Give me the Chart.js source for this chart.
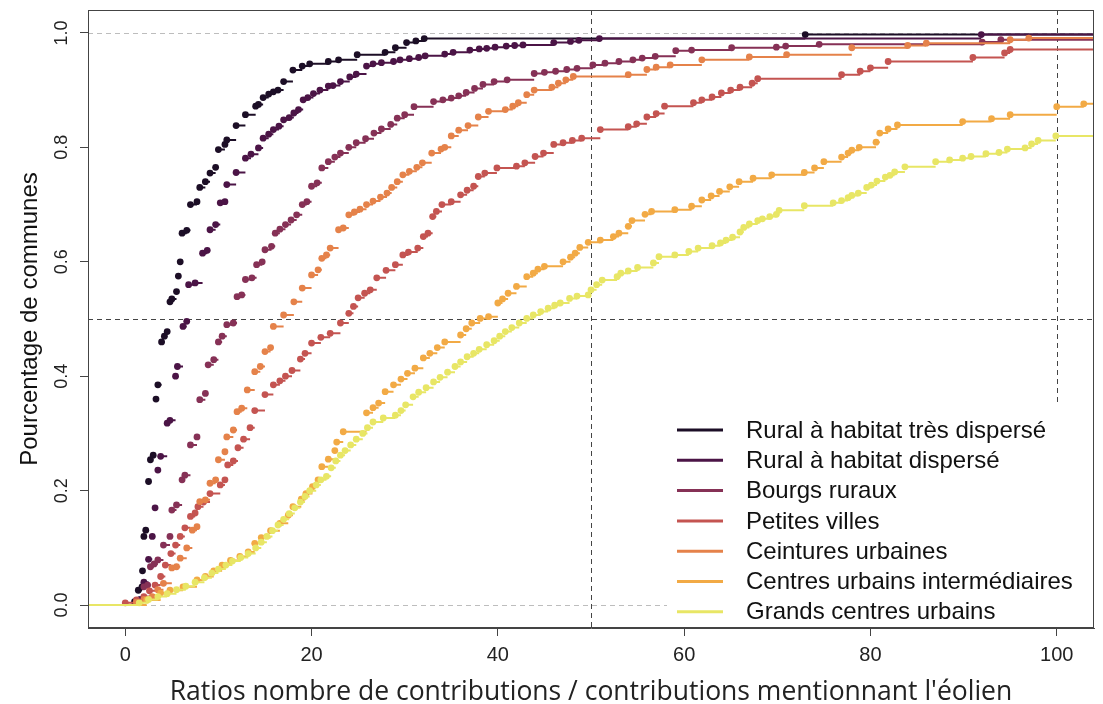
<!DOCTYPE html>
<html>
<head>
<meta charset="utf-8">
<script src="https://cdn.jsdelivr.net/npm/chart.js@4.4.0/dist/chart.umd.min.js"></script>
<style>
    body { margin: 0; background: #fff; }
    #wrap { width: 1103px; height: 704px; }
</style>
</head>
<body>
<div id="wrap"><canvas id="ecdfChart" width="1103" height="704"></canvas></div>
<script>
const seriesNames = [
    'Rural à habitat très dispersé',
    'Rural à habitat dispersé',
    'Bourgs ruraux',
    'Petites villes',
    'Ceintures urbaines',
    'Centres urbains intermédiaires',
    'Grands centres urbains'
];
const seriesColors = ['#1c0e26', '#4b1446', '#863156', '#c45451', '#e5824a', '#f2aa45', '#e8e665'];

const xTicks = [0, 20, 40, 60, 80, 100];
const yTicks = [0, 0.2, 0.4, 0.6, 0.8, 1.0];
const refX = [50, 100];
const refY = [0.5];
const guideY = [0, 1];

// ratio values at each jump of the ecdf, and the cumulative share reached there
const s1x = [1.0, 1.4, 1.8, 1.85, 2.0, 2.2, 2.5, 2.7, 3.0, 3.3, 3.5, 3.9, 4.2, 4.5, 4.8, 5.0, 5.5, 5.7, 5.9, 6.1, 6.6, 7.0, 7.7, 8.0, 8.6, 9.1, 9.7, 10.0, 10.7, 10.9, 11.9, 12.9, 14.0, 14.3, 14.8, 15.4, 15.9, 16.4, 17.0, 18.0, 19.0, 19.8, 21.8, 22.9, 24.9, 27.9, 29.0, 30.2, 31.2, 32.1, 73.0];
const s1y = [0.006, 0.026, 0.032, 0.06, 0.12, 0.131, 0.216, 0.254, 0.262, 0.36, 0.385, 0.46, 0.47, 0.478, 0.53, 0.535, 0.548, 0.575, 0.6, 0.65, 0.655, 0.70, 0.705, 0.73, 0.74, 0.755, 0.765, 0.796, 0.805, 0.813, 0.838, 0.857, 0.872, 0.875, 0.887, 0.893, 0.897, 0.90, 0.915, 0.935, 0.942, 0.946, 0.95, 0.953, 0.962, 0.966, 0.974, 0.983, 0.986, 0.99, 0.997];

const s2x = [1.6, 2.0, 2.5, 2.9, 3.2, 3.5, 3.8, 4.5, 4.8, 5.4, 5.6, 6.2, 6.6, 6.8, 7.5, 8.3, 8.8, 9.1, 9.7, 10.2, 10.7, 10.9, 11.9, 12.9, 13.5, 14.3, 14.8, 15.4, 15.9, 16.5, 17.0, 17.6, 18.1, 18.6, 19.1, 19.6, 20.2, 20.9, 21.8, 22.3, 23.1, 24.1, 24.8, 25.9, 26.6, 27.5, 28.8, 29.5, 30.5, 31.5, 32.2, 34.3, 35.2, 37.0, 38.0, 38.8, 39.7, 40.9, 41.8, 42.7, 46.0, 47.8, 48.7, 50.9, 91.9];
const s2y = [0.01, 0.04, 0.08, 0.12, 0.17, 0.236, 0.26, 0.318, 0.323, 0.40, 0.417, 0.487, 0.496, 0.56, 0.563, 0.615, 0.62, 0.656, 0.665, 0.703, 0.705, 0.735, 0.756, 0.781, 0.788, 0.799, 0.816, 0.823, 0.831, 0.837, 0.848, 0.852, 0.86, 0.866, 0.883, 0.887, 0.894, 0.90, 0.907, 0.908, 0.915, 0.923, 0.928, 0.942, 0.946, 0.948, 0.95, 0.953, 0.955, 0.957, 0.96, 0.963, 0.966, 0.97, 0.972, 0.973, 0.975, 0.977, 0.978, 0.979, 0.983, 0.985, 0.987, 0.99, 0.997];

const s3x = [1.5, 2.0, 2.4, 2.7, 3.1, 3.5, 4.1, 4.8, 5.0, 5.5, 6.1, 6.4, 7.0, 7.7, 8.0, 8.6, 8.9, 9.5, 10.0, 10.4, 10.9, 11.6, 12.0, 12.5, 12.9, 13.6, 14.1, 14.7, 15.0, 15.7, 16.1, 16.6, 17.2, 17.8, 18.4, 19.0, 19.5, 20.0, 20.6, 21.1, 21.8, 22.5, 23.1, 24.0, 24.8, 25.8, 26.7, 27.5, 28.5, 29.2, 30.0, 31.0, 33.1, 34.1, 35.0, 35.8, 36.6, 37.5, 38.4, 39.6, 41.0, 43.9, 45.0, 46.2, 47.4, 48.5, 50.2, 51.5, 53.0, 54.5, 55.5, 56.9, 59.1, 60.8, 65.1, 69.9, 70.9, 74.5, 92.0, 94.0];
const s3y = [0.006, 0.032, 0.035, 0.067, 0.072, 0.079, 0.105, 0.12, 0.166, 0.175, 0.219, 0.227, 0.28, 0.294, 0.359, 0.37, 0.42, 0.429, 0.46, 0.47, 0.49, 0.493, 0.539, 0.542, 0.569, 0.572, 0.595, 0.60, 0.621, 0.627, 0.65, 0.657, 0.665, 0.673, 0.682, 0.70, 0.705, 0.732, 0.738, 0.764, 0.775, 0.783, 0.79, 0.80, 0.808, 0.815, 0.825, 0.832, 0.84, 0.851, 0.857, 0.871, 0.88, 0.883, 0.886, 0.89, 0.896, 0.903, 0.91, 0.915, 0.918, 0.929, 0.931, 0.933, 0.936, 0.938, 0.944, 0.947, 0.95, 0.953, 0.956, 0.959, 0.969, 0.97, 0.974, 0.975, 0.977, 0.98, 0.984, 0.988];

const s4x = [0.0, 1.2, 2.0, 2.6, 3.2, 3.8, 4.3, 4.9, 5.4, 5.9, 6.4, 7.0, 7.5, 7.8, 8.4, 9.1, 10.2, 10.7, 11.0, 11.6, 12.1, 12.7, 13.4, 13.9, 15.0, 15.9, 16.6, 17.2, 17.9, 18.8, 19.3, 20.0, 21.0, 22.0, 23.1, 24.0, 24.5, 25.0, 25.7, 26.3, 27.0, 28.0, 29.0, 29.8, 30.4, 31.4, 32.0, 32.5, 33.0, 33.4, 34.0, 35.0, 36.0, 36.7, 37.4, 37.9, 38.6, 39.9, 42.0, 42.9, 44.0, 44.9, 46.0, 47.0, 48.0, 49.0, 51.0, 54.0, 54.9, 56.0, 57.0, 57.9, 61.0, 61.9, 63.0, 64.0, 65.0, 66.0, 67.3, 67.9, 76.9, 78.9, 80.0, 81.9, 91.0, 94.4, 95.0];
const s4y = [0.004, 0.009, 0.015, 0.025, 0.035, 0.05, 0.07, 0.09, 0.105, 0.12, 0.135, 0.155, 0.161, 0.172, 0.18, 0.195, 0.21, 0.219, 0.245, 0.252, 0.275, 0.29, 0.31, 0.34, 0.368, 0.385, 0.392, 0.40, 0.41, 0.43, 0.44, 0.458, 0.468, 0.475, 0.493, 0.51, 0.522, 0.537, 0.545, 0.551, 0.572, 0.585, 0.595, 0.612, 0.617, 0.624, 0.644, 0.65, 0.679, 0.688, 0.70, 0.705, 0.717, 0.725, 0.732, 0.749, 0.755, 0.764, 0.767, 0.773, 0.784, 0.79, 0.805, 0.808, 0.812, 0.816, 0.831, 0.836, 0.841, 0.853, 0.859, 0.872, 0.878, 0.883, 0.888, 0.895, 0.90, 0.905, 0.912, 0.92, 0.927, 0.933, 0.939, 0.95, 0.957, 0.965, 0.971];

const s5x = [1.2, 2.0, 2.9, 3.5, 4.1, 5.0, 5.5, 5.9, 6.6, 7.2, 7.7, 8.0, 8.6, 9.1, 9.7, 10.0, 10.7, 10.9, 11.6, 12.0, 12.5, 13.1, 13.9, 14.5, 15.0, 15.6, 15.9, 17.0, 18.1, 19.0, 20.0, 20.7, 21.1, 21.6, 22.0, 22.9, 23.4, 24.0, 24.6, 25.2, 25.9, 26.6, 27.4, 28.1, 28.6, 29.2, 29.8, 30.5, 31.3, 31.9, 32.9, 33.9, 34.3, 35.0, 35.8, 36.8, 37.9, 39.0, 40.8, 41.6, 42.2, 43.1, 43.9, 45.8, 46.5, 47.3, 48.1, 54.0, 56.0, 57.0, 58.5, 61.9, 67.0, 71.0, 78.0, 84.0, 86.0, 95.0, 97.0];
const s5y = [0.005, 0.01, 0.015, 0.027, 0.038, 0.065, 0.067, 0.082, 0.10, 0.131, 0.137, 0.181, 0.184, 0.213, 0.219, 0.254, 0.268, 0.294, 0.306, 0.338, 0.344, 0.376, 0.408, 0.417, 0.443, 0.45, 0.487, 0.507, 0.53, 0.554, 0.577, 0.586, 0.606, 0.612, 0.624, 0.656, 0.659, 0.682, 0.687, 0.692, 0.70, 0.706, 0.713, 0.72, 0.73, 0.74, 0.752, 0.758, 0.765, 0.773, 0.79, 0.797, 0.80, 0.82, 0.83, 0.838, 0.853, 0.863, 0.866, 0.872, 0.878, 0.892, 0.90, 0.905, 0.912, 0.918, 0.924, 0.927, 0.936, 0.94, 0.944, 0.953, 0.958, 0.962, 0.974, 0.978, 0.982, 0.988, 0.991];

const s6x = [2.3, 3.8, 4.8, 6.2, 7.7, 8.6, 9.5, 10.4, 11.3, 12.3, 13.2, 13.9, 14.6, 15.6, 16.6, 17.5, 18.0, 18.9, 19.4, 20.1, 20.7, 21.1, 21.8, 22.5, 22.7, 23.4, 25.9, 26.6, 27.2, 27.9, 28.8, 29.6, 30.3, 31.1, 32.0, 32.7, 33.5, 34.3, 36.0, 36.6, 37.2, 38.1, 39.0, 40.0, 40.5, 41.1, 42.0, 43.1, 43.8, 44.3, 45.0, 47.0, 47.8, 48.3, 48.8, 49.7, 51.0, 52.4, 53.0, 54.0, 54.4, 55.8, 56.5, 59.0, 60.8, 61.9, 62.9, 63.8, 64.9, 65.9, 67.4, 69.4, 72.9, 74.0, 75.0, 76.9, 77.6, 78.0, 78.8, 80.6, 81.0, 81.9, 82.9, 89.9, 93.0, 95.0, 100.0, 102.9];
const s6y = [0.009, 0.021, 0.026, 0.032, 0.044, 0.05, 0.06, 0.07, 0.078, 0.085, 0.093, 0.108, 0.118, 0.13, 0.143, 0.157, 0.172, 0.185, 0.195, 0.207, 0.219, 0.242, 0.255, 0.27, 0.285, 0.303, 0.336, 0.345, 0.353, 0.373, 0.385, 0.395, 0.405, 0.414, 0.432, 0.44, 0.45, 0.46, 0.472, 0.483, 0.493, 0.501, 0.504, 0.528, 0.535, 0.545, 0.557, 0.574, 0.58, 0.587, 0.592, 0.60, 0.608, 0.615, 0.625, 0.634, 0.638, 0.644, 0.65, 0.662, 0.672, 0.683, 0.688, 0.691, 0.697, 0.708, 0.715, 0.723, 0.731, 0.74, 0.746, 0.752, 0.756, 0.764, 0.775, 0.783, 0.79, 0.795, 0.80, 0.809, 0.825, 0.832, 0.839, 0.845, 0.85, 0.857, 0.871, 0.876];

const s7x = [1.5, 2.5, 3.5, 4.5, 5.5, 6.5, 7.5, 8.5, 9.3, 10.0, 10.8, 11.5, 12.4, 13.2, 14.0, 14.6, 15.2, 15.8, 16.4, 17.0, 17.6, 18.2, 18.8, 19.3, 19.8, 20.5, 21.0, 21.6, 22.1, 22.6, 23.1, 23.6, 24.2, 24.8, 25.5, 26.0, 26.6, 27.7, 29.0, 29.6, 30.1, 30.9, 31.5, 32.3, 33.1, 33.8, 34.6, 35.4, 36.0, 36.7, 37.4, 38.0, 38.8, 39.6, 40.2, 40.8, 41.5, 42.3, 43.1, 43.8, 44.6, 45.4, 46.1, 46.7, 47.7, 48.5, 49.7, 50.0, 50.6, 51.2, 52.8, 53.2, 54.0, 55.0, 56.7, 57.3, 59.0, 60.5, 61.5, 63.0, 63.9, 64.5, 65.2, 66.0, 66.4, 67.0, 67.9, 68.4, 69.2, 69.9, 70.2, 72.9, 76.0, 76.9, 77.6, 78.0, 78.7, 79.6, 80.1, 80.7, 81.6, 82.1, 82.6, 83.7, 87.0, 88.5, 89.9, 90.8, 92.4, 93.8, 94.7, 96.6, 97.3, 98.0, 99.9];
const s7y = [0.004, 0.01, 0.015, 0.02, 0.027, 0.033, 0.04, 0.048, 0.056, 0.063, 0.07, 0.077, 0.083, 0.09, 0.10, 0.11, 0.12, 0.13, 0.14, 0.15, 0.16, 0.17, 0.18, 0.19, 0.20, 0.21, 0.219, 0.225, 0.24, 0.252, 0.262, 0.27, 0.28, 0.29, 0.30, 0.31, 0.32, 0.327, 0.332, 0.34, 0.35, 0.364, 0.372, 0.38, 0.39, 0.398, 0.407, 0.417, 0.425, 0.434, 0.44, 0.447, 0.455, 0.462, 0.47, 0.478, 0.485, 0.493, 0.501, 0.507, 0.513, 0.519, 0.524, 0.528, 0.536, 0.54, 0.542, 0.551, 0.56, 0.568, 0.574, 0.58, 0.584, 0.59, 0.598, 0.609, 0.612, 0.618, 0.624, 0.628, 0.633, 0.638, 0.643, 0.652, 0.66, 0.666, 0.672, 0.675, 0.679, 0.683, 0.69, 0.698, 0.703, 0.707, 0.712, 0.716, 0.72, 0.73, 0.734, 0.741, 0.748, 0.751, 0.757, 0.766, 0.775, 0.778, 0.781, 0.784, 0.789, 0.791, 0.797, 0.799, 0.806, 0.812, 0.82];

const seriesX = [s1x, s2x, s3x, s4x, s5x, s6x, s7x];
const seriesY = [s1y, s2y, s3y, s4y, s5y, s6y, s7y];

// R-style ecdf: flat steps, dot at the left end of each step, no verticals
function ecdfSteps(xs, ys) {
    const pts = [{x: -10, y: 0}, {x: xs[0], y: 0}, {x: xs[0], y: null}];
    xs.forEach((x, i) => {
        const next = i + 1 < xs.length ? xs[i + 1] : 120;
        pts.push({x: x, y: ys[i], dot: true});
        pts.push({x: next, y: ys[i]});
        pts.push({x: next, y: null});
    });
    return pts;
}

const datasets = seriesNames.map((name, i) => ({
    label: name,
    data: ecdfSteps(seriesX[i], seriesY[i]),
    borderColor: seriesColors[i],
    backgroundColor: seriesColors[i],
    borderWidth: 2,
    pointRadius: ctx => (ctx.raw && ctx.raw.dot ? 3.4 : 0),
    pointBorderWidth: 0,
    pointHoverRadius: 0,
    spanGaps: false,
    tension: 0,
    order: seriesNames.length - i
}));

const refLines = {
    id: 'refLines',
    beforeDatasetsDraw(chart) {
        const {ctx, chartArea: a, scales: {x, y}} = chart;
        ctx.save();
        ctx.lineWidth = 1;
        ctx.setLineDash([5, 4]);
        ctx.strokeStyle = '#bdbdbd';
        guideY.forEach(v => {
            const py = Math.round(y.getPixelForValue(v)) + 0.5;
            ctx.beginPath(); ctx.moveTo(a.left, py); ctx.lineTo(a.right, py); ctx.stroke();
        });
        ctx.strokeStyle = '#444';
        refY.forEach(v => {
            const py = Math.round(y.getPixelForValue(v)) + 0.5;
            ctx.beginPath(); ctx.moveTo(a.left, py); ctx.lineTo(a.right, py); ctx.stroke();
        });
        refX.forEach(v => {
            const px = Math.round(x.getPixelForValue(v)) + 0.5;
            ctx.beginPath(); ctx.moveTo(px, a.top); ctx.lineTo(px, a.bottom); ctx.stroke();
        });
        ctx.restore();
    }
};

const boxLegend = {
    id: 'boxLegend',
    afterDatasetsDraw(chart) {
        const {ctx, chartArea: a} = chart;
        const top = 404;
        ctx.save();
        ctx.fillStyle = '#fff';
        ctx.fillRect(667, top, a.right - 667, a.bottom - top);
        ctx.font = '24px "Liberation Sans", Arial, sans-serif';
        ctx.textBaseline = 'middle';
        chart.data.datasets.forEach((ds, i) => {
            const ly = 430 + i * 30.3;
            ctx.strokeStyle = ds.borderColor;
            ctx.lineWidth = 3;
            ctx.beginPath(); ctx.moveTo(677, ly); ctx.lineTo(723, ly); ctx.stroke();
            ctx.fillStyle = '#111';
            ctx.fillText(ds.label, 746, ly + 1);
        });
        ctx.restore();
    },
    afterDraw(chart) {
        const {ctx, chartArea: a} = chart;
        ctx.save();
        ctx.strokeStyle = '#444';
        ctx.lineWidth = 1;
        ctx.strokeRect(a.left + 0.5, a.top + 0.5, a.right - a.left - 1, a.bottom - a.top - 1);
        ctx.restore();
    }
};

new Chart(document.getElementById('ecdfChart'), {
    type: 'line',
    data: { datasets: datasets },
    options: {
        responsive: false,
        animation: false,
        events: [],
        layout: { padding: { left: 10, top: 10, right: 9, bottom: 0 } },
        plugins: {
            legend: { display: false },
            tooltip: { enabled: false }
        },
        scales: {
            x: {
                type: 'linear',
                min: -4,
                max: 104,
                afterBuildTicks: axis => { axis.ticks = xTicks.map(v => ({value: v})); },
                afterFit: axis => {
                    axis.height = 76;
                    axis.paddingLeft = 0;
                    axis.paddingRight = 0;
                },
                grid: { drawOnChartArea: false, drawTicks: true, tickLength: 8, color: '#444' },
                border: { display: true, color: '#444' },
                ticks: {
                    color: '#222',
                    padding: 7,
                    maxRotation: 0,
                    font: { family: '"Liberation Sans", Arial, sans-serif', size: 20 }
                },
                title: {
                    display: true,
                    text: "Ratios nombre de contributions / contributions mentionnant l'éolien",
                    color: '#222',
                    padding: { top: 11.5, bottom: 0 },
                    font: { family: '"Open Sans", sans-serif', size: 26.5, lineHeight: 0.85 }
                }
            },
            y: {
                type: 'linear',
                min: -0.04,
                max: 1.04,
                afterBuildTicks: axis => { axis.ticks = yTicks.map(v => ({value: v})); },
                afterFit: axis => {
                    axis.width = 78;
                    axis.paddingTop = 0;
                    axis.paddingBottom = 0;
                },
                grid: { drawOnChartArea: false, drawTicks: true, tickLength: 8, color: '#444' },
                border: { display: true, color: '#444' },
                ticks: {
                    color: '#222',
                    padding: 5.8,
                    minRotation: 90,
                    maxRotation: 90,
                    crossAlign: 'center',
                    font: { family: '"Liberation Sans", Arial, sans-serif', size: 18 },
                    callback: v => v.toFixed(1)
                },
                title: {
                    display: true,
                    text: 'Pourcentage de communes',
                    color: '#111',
                    padding: { top: 5.6, bottom: 8.2 },
                    font: { family: '"Liberation Sans", Arial, sans-serif', size: 24 }
                }
            }
        }
    },
    plugins: [refLines, boxLegend]
});
</script>
</body>
</html>
